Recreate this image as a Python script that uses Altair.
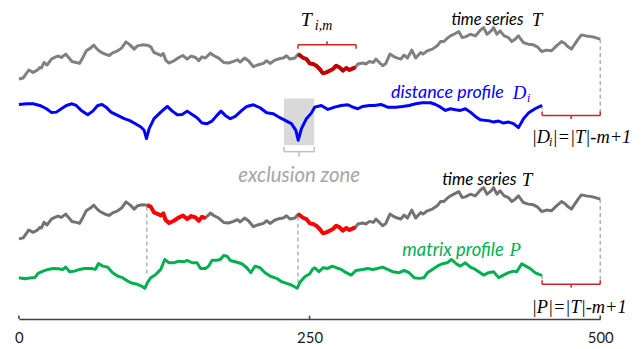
import altair as alt
import pandas as pd

# ---------------- data ----------------
# time series T (index, value)
T_t = [0, 3.7, 8.5, 12.2, 16, 17.9, 19.4, 21.6, 24.2, 27.9, 30.8, 33.6, 36.5, 40.2, 42.7, 45.6, 49.3, 52.1,
       55, 57.9, 61.5, 64.4, 67.3, 70.1, 74.1, 77.8, 80.6, 84.9, 88.3, 92.1, 95.5, 99.1, 102, 106.2, 110.5,
       113.4, 116.2, 119.7, 122, 124.2, 126.2, 129.1, 133.3, 137.6, 141, 144.7, 148.1, 151.9, 154.7, 157.5,
       160.4, 164.7, 167.5, 171.8, 176.1, 180.3, 184.6, 188, 190.3, 194, 197.4, 201.7, 206, 210.3, 213.1,
       216, 220.3, 224.5, 227.4, 230.2, 233.1, 237.4, 240.2, 244.4, 247.3, 250.2, 253, 255.8, 258.7, 261.5,
       264.4, 267.3, 270.1, 272.9, 275.8, 278.6, 281.5, 284.4, 287.2, 289.5, 291.5, 295.7, 298.5, 301.5,
       304.9, 307.1, 310, 312.8, 315.6, 319.1, 322.8, 325.6, 328.5, 331.4, 334.2, 337.9, 341.3, 345.6,
       347.6, 351.3, 355.6, 359.8, 362.6, 365.6, 368.4, 371.2, 374.1, 378.4, 381.2, 384, 388.3, 392.6,
       396.8, 399.7, 402.6, 406.2, 408.3, 411.1, 413.9, 417.4, 421.1, 423.9, 426.8, 429.7, 433.9, 438.2,
       442.5, 445.9, 449.6, 453.8, 458.1, 462.4, 466.7, 469.5, 472.4, 475.2, 478.1, 481, 483.8, 488,
       493.7, 500]
T_v = [1.7, 2.7, 10.7, 8.3, 10.7, 13.3, 12.7, 18.3, 15.7, 21.7, 23.3, 24.7, 23.3, 26.7, 23.3, 19.3, 18.3, 17.3,
       23.3, 30, 32.7, 35.7, 31.7, 29, 26.7, 25.3, 28, 30, 32.7, 39, 36, 31.7, 35, 36, 35.7,
       34, 28.3, 26.7, 25.3, 27.3, 20.7, 17.7, 20, 23.3, 25.3, 21.7, 24.7, 23.3, 20, 24,
       22.7, 27.7, 25.3, 22.7, 18.3, 17.7, 19.3, 21, 18.7, 22.7, 20, 14, 16, 17.3, 20,
       17.3, 20.7, 22.3, 22.7, 25, 21.7, 22.7, 26.7, 23, 21.7, 17.3, 16.7, 15, 11.7, 7.3,
       8.3, 10, 11.7, 15, 13.3, 10, 12.7, 10.7, 12.3, 13.3, 16.7, 17.7, 16.7, 19.3,
       18.3, 21.7, 18.3, 15, 17.3, 26.7, 24, 22.7, 21.7, 25.7, 22.7, 30.7, 22.7, 28.3,
       26.7, 30, 31.7, 35, 39.3, 39.3, 42.7, 45, 46.7, 49.3, 43.3, 44, 46.7, 45,
       50.7, 53.3, 46.7, 50, 53.3, 46.7, 50, 45, 43.3, 39.3, 41.7, 45, 38.3, 36.7,
       36, 34, 29.3, 30.7, 30, 35, 39.3, 37.3, 34, 31.7, 36.7, 41.7, 46, 45,
       44, 41.7]

# distance profile D_i (i = 240, m = 50)
D_t = [0, 6.6, 12.2, 17.9, 23.7, 27.9, 32.2, 36.5, 40.8, 45.6, 49.3, 53.6, 59.2, 63.5, 67.8, 71.5, 75, 79.2,
       84.9, 90.6, 94.9, 99.1, 104.9, 107.7, 109.7, 112, 116.2, 122, 127.6, 131.9, 136.2, 140.4, 144.7, 149,
       153.2, 157.5, 161.8, 166.1, 170.3, 173.8, 177.5, 181.8, 186.1, 191.7, 196, 201.7, 207.4, 213.1, 218.8,
       224.5, 230.2, 234.4, 238.2, 240.2, 243, 247.3, 251.5, 254.4, 260.1, 265.8, 271.5, 277.2, 282.9, 287.2,
       291.5, 295.7, 301.5, 305.7, 311.4, 317.1, 324.2, 329.9, 335.6, 341.3, 347, 354.1, 358.4, 362.6, 366.9,
       371.2, 375.5, 379.7, 384, 388.3, 392.6, 396.8, 401.1, 405.4, 408.3, 412.6, 416.8, 421.1, 425.4, 429.7,
       434, 438.2, 443.9, 450]
D_v = [36, 36.7, 36.7, 35, 31.7, 28, 28.3, 31.7, 35, 36.7, 35, 30, 25.7, 29.3, 35, 36, 33.3, 28.3,
       25, 21.7, 20, 17.3, 13.3, 10, 1.7, 11.7, 21.7, 28.3, 34, 29.3, 25.7, 26, 29.3, 26,
       22.7, 17.3, 16.7, 19.3, 25, 29.3, 25, 21.7, 24, 30, 34, 35.7, 32.7, 27.7, 26.7,
       22.7, 19.3, 16.7, 10, 0, 11.7, 21.7, 27.3, 33.3, 35, 31, 33.3, 35, 35.7, 33.3,
       31.7, 34, 35, 35, 36, 33.3, 33.3, 34, 35, 36.7, 37.7, 37.7, 36, 33.3, 30,
       31.7, 30.7, 30, 31.7, 28.3, 24, 20.7, 20, 19.3, 18.3, 19.3, 17.3, 18.3, 16.7, 12.7,
       21.7, 27.3, 31.7, 35]

# matrix profile P
P_t = [0, 5.1, 10.9, 13.7, 16.5, 20.8, 25, 29.3, 33.6, 37.9, 40.2, 43.6, 47.9, 52.1, 56.4, 62.1, 65.8, 68.4,
       72.1, 76.3, 80.6, 84.9, 89.1, 93.4, 97.7, 102, 105.4, 108.3, 110.5, 113.4, 117.7, 122, 125.4, 129.1,
       133.3, 137.6, 141.9, 144.7, 149, 153.2, 156.2, 160.4, 163.2, 166.1, 170.3, 173.2, 176.1, 179, 181.8,
       186.1, 191.7, 196, 199.4, 203.2, 207.4, 211.7, 216, 221.6, 225.9, 230.2, 234.4, 239.3, 242.1, 245.9,
       250.2, 252.4, 254.4, 258.1, 261.5, 265.8, 269.5, 272.9, 277.2, 281.5, 285.7, 290, 295.7, 300, 304.3,
       308.5, 312.8, 317.1, 321.4, 327.1, 331.4, 335.6, 339.9, 344.2, 348.5, 351.3, 355.6, 359.8, 364.1,
       368.4, 372.1, 376.1, 379.7, 384, 388.3, 392.6, 396.8, 399.7, 404, 408.3, 412.6, 416.8, 421.1, 425.4,
       428.2, 432.5, 435.9, 439.6, 443.9, 447.3, 450]
P_v = [11.7, 10.7, 11.7, 11.7, 16, 18.3, 20, 21, 20.7, 20, 22.3, 17.7, 18.3, 20, 21, 21, 20, 26,
       23.3, 22.3, 16.7, 13.3, 11.7, 8.3, 6, 5, 3.3, 1, 6.7, 11.7, 15, 20, 30, 26.7,
       26.7, 28.3, 27.7, 29, 26.7, 26.7, 21, 21, 23.3, 29.3, 29.3, 30, 34, 33.3, 29,
       27.7, 25.7, 21.7, 16.7, 23.3, 21.7, 16.7, 13.3, 11, 7.7, 6, 4.3, 1, 7.7, 12.7,
       15.7, 20, 21.7, 17.7, 21.7, 21, 23.3, 21.7, 20, 16.7, 14.3, 19, 20, 21, 20,
       21, 22.3, 20, 17.7, 16.7, 19, 16.7, 11.7, 11, 11.7, 16.7, 20, 23.3, 25.7,
       26.7, 30, 25.7, 23.3, 26.7, 22.3, 20, 16.7, 14.3, 16.7, 17.7, 11.7, 14.3, 16.7, 18.3,
       17.7, 25.7, 23.3, 21, 16.7, 15, 14]

SERIES_LEN = 500
SUB_LEN = 50            # m
QUERY_START = 240       # i
MATCH_START = 110       # nearest neighbour of the query
EXCL = [228, 254]       # exclusion zone
X_TICKS = [0, 250, 500]

# vertical placement of the four rows
TOP_T_OFF, LOW_T_OFF, D_OFF, P_OFF = 240, 79, 180, 30

# ---------------- frames ----------------
T = pd.DataFrame({"t": T_t, "v": T_v})
topT = T.assign(y=T.v + TOP_T_OFF)
lowT = T.assign(y=T.v + LOW_T_OFF)
D = pd.DataFrame({"t": D_t, "y": [v + D_OFF for v in D_v]})
P = pd.DataFrame({"t": P_t, "y": [v + P_OFF for v in P_v]})

q0, q1 = QUERY_START, QUERY_START + SUB_LEN
n0, n1 = MATCH_START, MATCH_START + SUB_LEN
topRed = topT[(topT.t >= q0) & (topT.t <= q1)]
lowRed1 = lowT[(lowT.t >= n0) & (lowT.t <= n1 + 1)]
lowRed2 = lowT[(lowT.t >= q0) & (lowT.t <= q1)]

prof_end = SERIES_LEN - SUB_LEN

xs = alt.Scale(domain=[0, SERIES_LEN], nice=False, zero=False)
ys = alt.Scale(domain=[0, 312], nice=False, zero=False)
xaxis = alt.Axis(values=X_TICKS, title=None, ticks=False, tickSize=0, grid=False,
                 domainColor="#404040", domainWidth=1.5, labelFont="Lato", labelFontSize=15,
                 labelColor="#1a1a1a", labelPadding=12, labelFlush=False)
X = alt.X("t:Q", scale=xs, axis=xaxis)
Y = alt.Y("y:Q", scale=ys, axis=None)


def line(df, color, width):
    return alt.Chart(df).mark_line(color=color, strokeWidth=width, strokeJoin="round").encode(x=X, y=Y)


def brace(t0, t1, y, end, tip):
    tm = (t0 + t1) / 2
    return [
        {"t": t0, "t2": t1, "y": y, "y2": y},
        {"t": t0, "t2": t0, "y": y, "y2": end},
        {"t": t1, "t2": t1, "y": y, "y2": end},
        {"t": tm, "t2": tm, "y": y, "y2": tip},
    ]


def rules(rows, color, width, dash=None):
    kw = dict(color=color, strokeWidth=width)
    if dash:
        kw["strokeDash"] = dash
    return alt.Chart(pd.DataFrame(rows)).mark_rule(**kw).encode(
        x=X, x2="t2:Q", y=Y, y2="y2:Q")


def text(t, y, s, size, color="black", font="Lato", align="left", baseline="middle"):
    return alt.Chart(pd.DataFrame({"t": [t], "y": [y], "s": [s]})).mark_text(
        font=font, fontSize=size, fontStyle="italic", color=color, align=align, baseline=baseline
    ).encode(x=X, y=Y, text="s:N")


SERIF = "Liberation Serif"

excl = alt.Chart(pd.DataFrame({"t": [EXCL[0]], "t2": [EXCL[1]], "y": [175], "y2": [222]})).mark_rect(
    color="#d9d9d9").encode(x=X, x2="t2:Q", y=Y, y2="y2:Q")

dashed = rules([
    {"t": SERIES_LEN, "t2": SERIES_LEN, "y": topT.y.iloc[-1], "y2": 205},
    {"t": SERIES_LEN, "t2": SERIES_LEN, "y": lowT.y.iloc[-1], "y2": 35},
    {"t": n0, "t2": n0, "y": 113, "y2": 46},
    {"t": q0, "t2": q0, "y": 103, "y2": 33},
    {"t": prof_end, "t2": prof_end, "y": D.y.iloc[-1], "y2": 209},
    {"t": prof_end, "t2": prof_end, "y": P.y.iloc[-1], "y2": 39},
], "#a6a6a6", 1.3, [4, 3])

red_braces = rules(
    brace(q0, q1, 276, 272, 279.5) + brace(prof_end, SERIES_LEN, 205, 209, 201.5)
    + brace(prof_end, SERIES_LEN, 35, 39, 31.5),
    "#d02424", 1.5)
gray_brace = rules(brace(EXCL[0], EXCL[1], 168.5, 173.5, 163.5), "#bfbfbf", 1.5)

ticks = rules([{"t": v, "t2": v, "y": 0, "y2": 3.5} for v in X_TICKS], "#404040", 1.5)

texts = [
    text(q0 + 2.5, 294.5, "T", 20, font=SERIF, baseline="alphabetic"),
    text(q0 + 14.5, 291, "i,m", 14, font=SERIF, baseline="alphabetic"),
    text(434, 301, "time series", 16.5, align="right"),
    text(441, 301, "T", 19, font=SERIF),
    text(417, 228, "distance profile", 18, color="#0000ff", align="right"),
    text(424.8, 228, "D", 19, color="#0000ff", font=SERIF),
    text(437, 222.5, "i", 12, color="#0000ff", font=SERIF),
    text(441, 183, "|D", 18.5, font=SERIF),
    text(456, 178.5, "i", 12, font=SERIF),
    text(459, 183, "|=|T|-m+1", 18.5, font=SERIF),
    text(241, 144, "exclusion zone", 20.5, color="#a6a6a6", align="center"),
    text(428, 140, "time series", 17, align="right"),
    text(432.5, 140, "T", 19, font=SERIF),
    text(417, 70, "matrix profile", 18.5, color="#00b050", align="right"),
    text(422, 70, "P", 19, color="#00b050", font=SERIF),
    text(441, 12, "|P|=|T|-m+1", 18.5, font=SERIF),
]

chart = alt.layer(
    excl,
    dashed,
    line(topT, "#808080", 3),
    line(lowT, "#767171", 3),
    line(topRed, "#c00000", 4),
    line(lowRed1, "#ff0000", 4),
    line(lowRed2, "#ff0000", 4),
    line(D, "#0000ff", 3),
    line(P, "#00b050", 3),
    red_braces,
    gray_brace,
    ticks,
    *texts,
).properties(
    width=585, height=312,
    autosize=alt.AutoSizeParams(type="none"),
    padding={"left": 11, "top": 0, "right": 36, "bottom": 28},
).configure_view(stroke=None)

chart.save("out.html", embed_options={"renderer": "svg", "actions": False})
